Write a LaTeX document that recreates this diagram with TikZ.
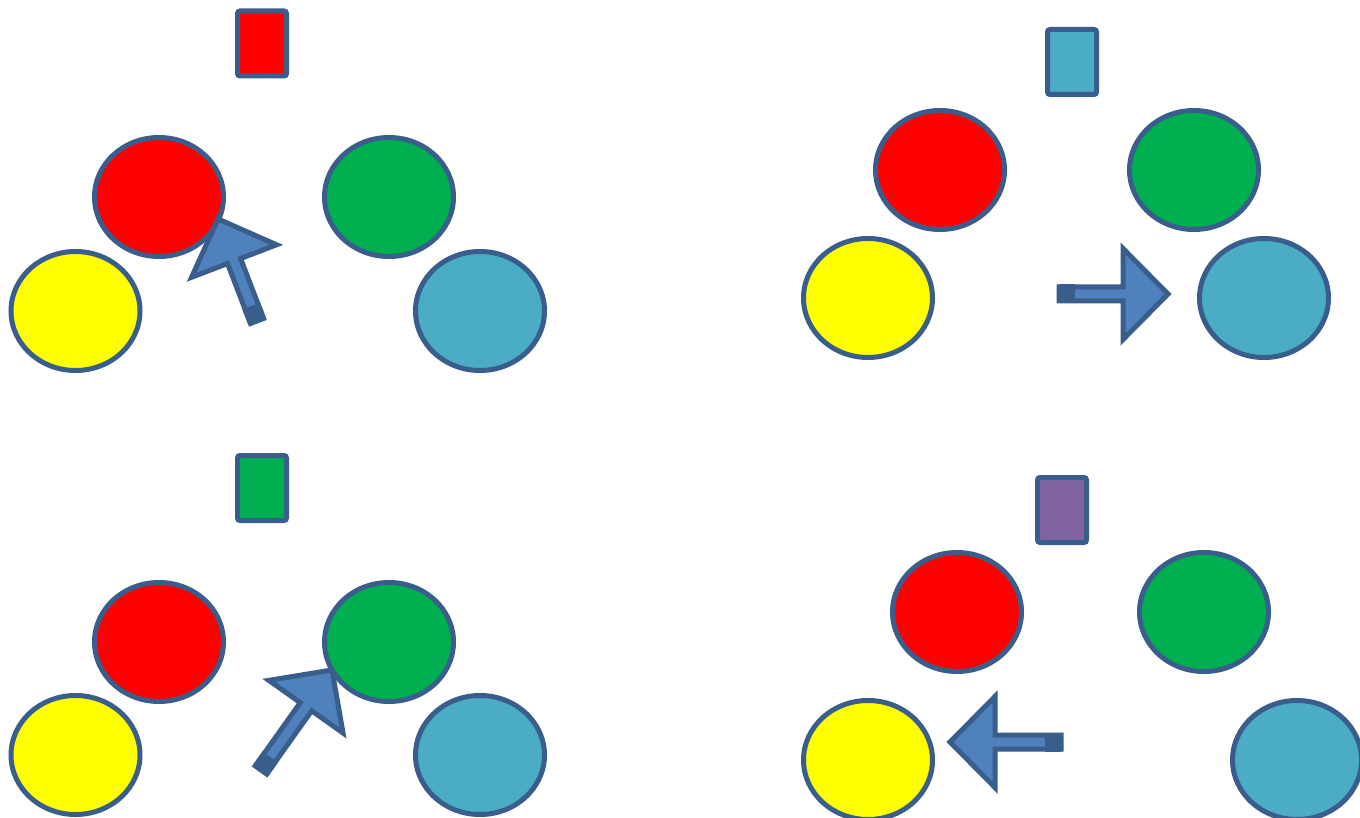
\documentclass[tikz,border=0pt]{standalone}
\usetikzlibrary{shapes.geometric,calc}
\definecolor{bd}{HTML}{3A5E8C}
\definecolor{cred}{HTML}{FF0000}
\definecolor{cgreen}{HTML}{00B050}
\definecolor{cyel}{HTML}{FFFF00}
\definecolor{ccyan}{HTML}{4BACC6}
\definecolor{cpurp}{HTML}{8064A2}
\definecolor{afill}{HTML}{4F81BD}
\tikzset{
 ball/.style={ellipse, draw=bd, line width=5pt, minimum width=129pt, minimum height=119pt, inner sep=0pt},
 card/.style={rectangle, draw=bd, line width=5pt, minimum width=49pt, minimum height=65pt, rounded corners=2.5pt, inner sep=0pt},
 blockarrow/.style={draw=bd, fill=afill, line width=5pt, line join=miter},
}
\newcommand\blkarrow[2]{%
 \coordinate (B) at ($(#2)!45pt!(#1)$);
 \draw[blockarrow] ($(#1)!7pt!90:(#2)$) -- ($(B)!7pt!-90:(#1)$) -- ($(B)!45.5pt!-90:(#1)$) -- (#2) -- ($(B)!45.5pt!90:(#1)$) -- ($(B)!7pt!90:(#1)$) -- ($(#1)!7pt!-90:(#2)$) -- cycle;
 \coordinate (E) at ($(#1)!16pt!(#2)$);
 \fill[bd] ($(#1)!9.5pt!90:(#2)$) -- ($(E)!9.5pt!-90:(#1)$) -- ($(E)!9.5pt!90:(#1)$) -- ($(#1)!9.5pt!-90:(#2)$) -- cycle;
}
\begin{document}
\begin{tikzpicture}[x=1pt,y=-1pt]
\useasboundingbox[fill=white] (0,0) rectangle (1360,818);
% panel 1
\node[card, fill=cred] (r1) at (262,43.5) {};
\node[ball, fill=cred] (a1) at (159,197) {};
\node[ball, fill=cgreen] (b1) at (389,197) {};
\node[ball, fill=cyel] (c1) at (75.5,311) {};
\node[ball, fill=ccyan] (d1) at (480,311) {};
\coordinate (t1) at (257,321);
\coordinate (p1) at (218,219);
\blkarrow{t1}{p1}
% panel 2
\node[card, fill=ccyan] (r2) at (1072,62) {};
\node[ball, fill=cred] (a2) at (940,170) {};
\node[ball, fill=cgreen] (b2) at (1194,170) {};
\node[ball, fill=cyel] (c2) at (868,298) {};
\node[ball, fill=ccyan] (d2) at (1264,298) {};
\coordinate (t2) at (1059,294);
\coordinate (p2) at (1168,294);
\blkarrow{t2}{p2}
% panel 3
\node[card, fill=cgreen] (r3) at (262,488) {};
\node[ball, fill=cred] (a3) at (159,642) {};
\node[ball, fill=cgreen] (b3) at (389,642) {};
\node[ball, fill=cyel] (c3) at (75.5,755) {};
\node[ball, fill=ccyan] (d3) at (480,755) {};
\coordinate (t3) at (261,770);
\coordinate (p3) at (332,670);
\blkarrow{t3}{p3}
% panel 4
\node[card, fill=cpurp] (r4) at (1062,510) {};
\node[ball, fill=cred] (a4) at (957,612) {};
\node[ball, fill=cgreen] (b4) at (1204,612) {};
\node[ball, fill=cyel] (c4) at (868,760) {};
\node[ball, fill=ccyan] (d4) at (1297,760) {};
\coordinate (t4) at (1061,742);
\coordinate (p4) at (950,742);
\blkarrow{t4}{p4}
\end{tikzpicture}
\end{document}
